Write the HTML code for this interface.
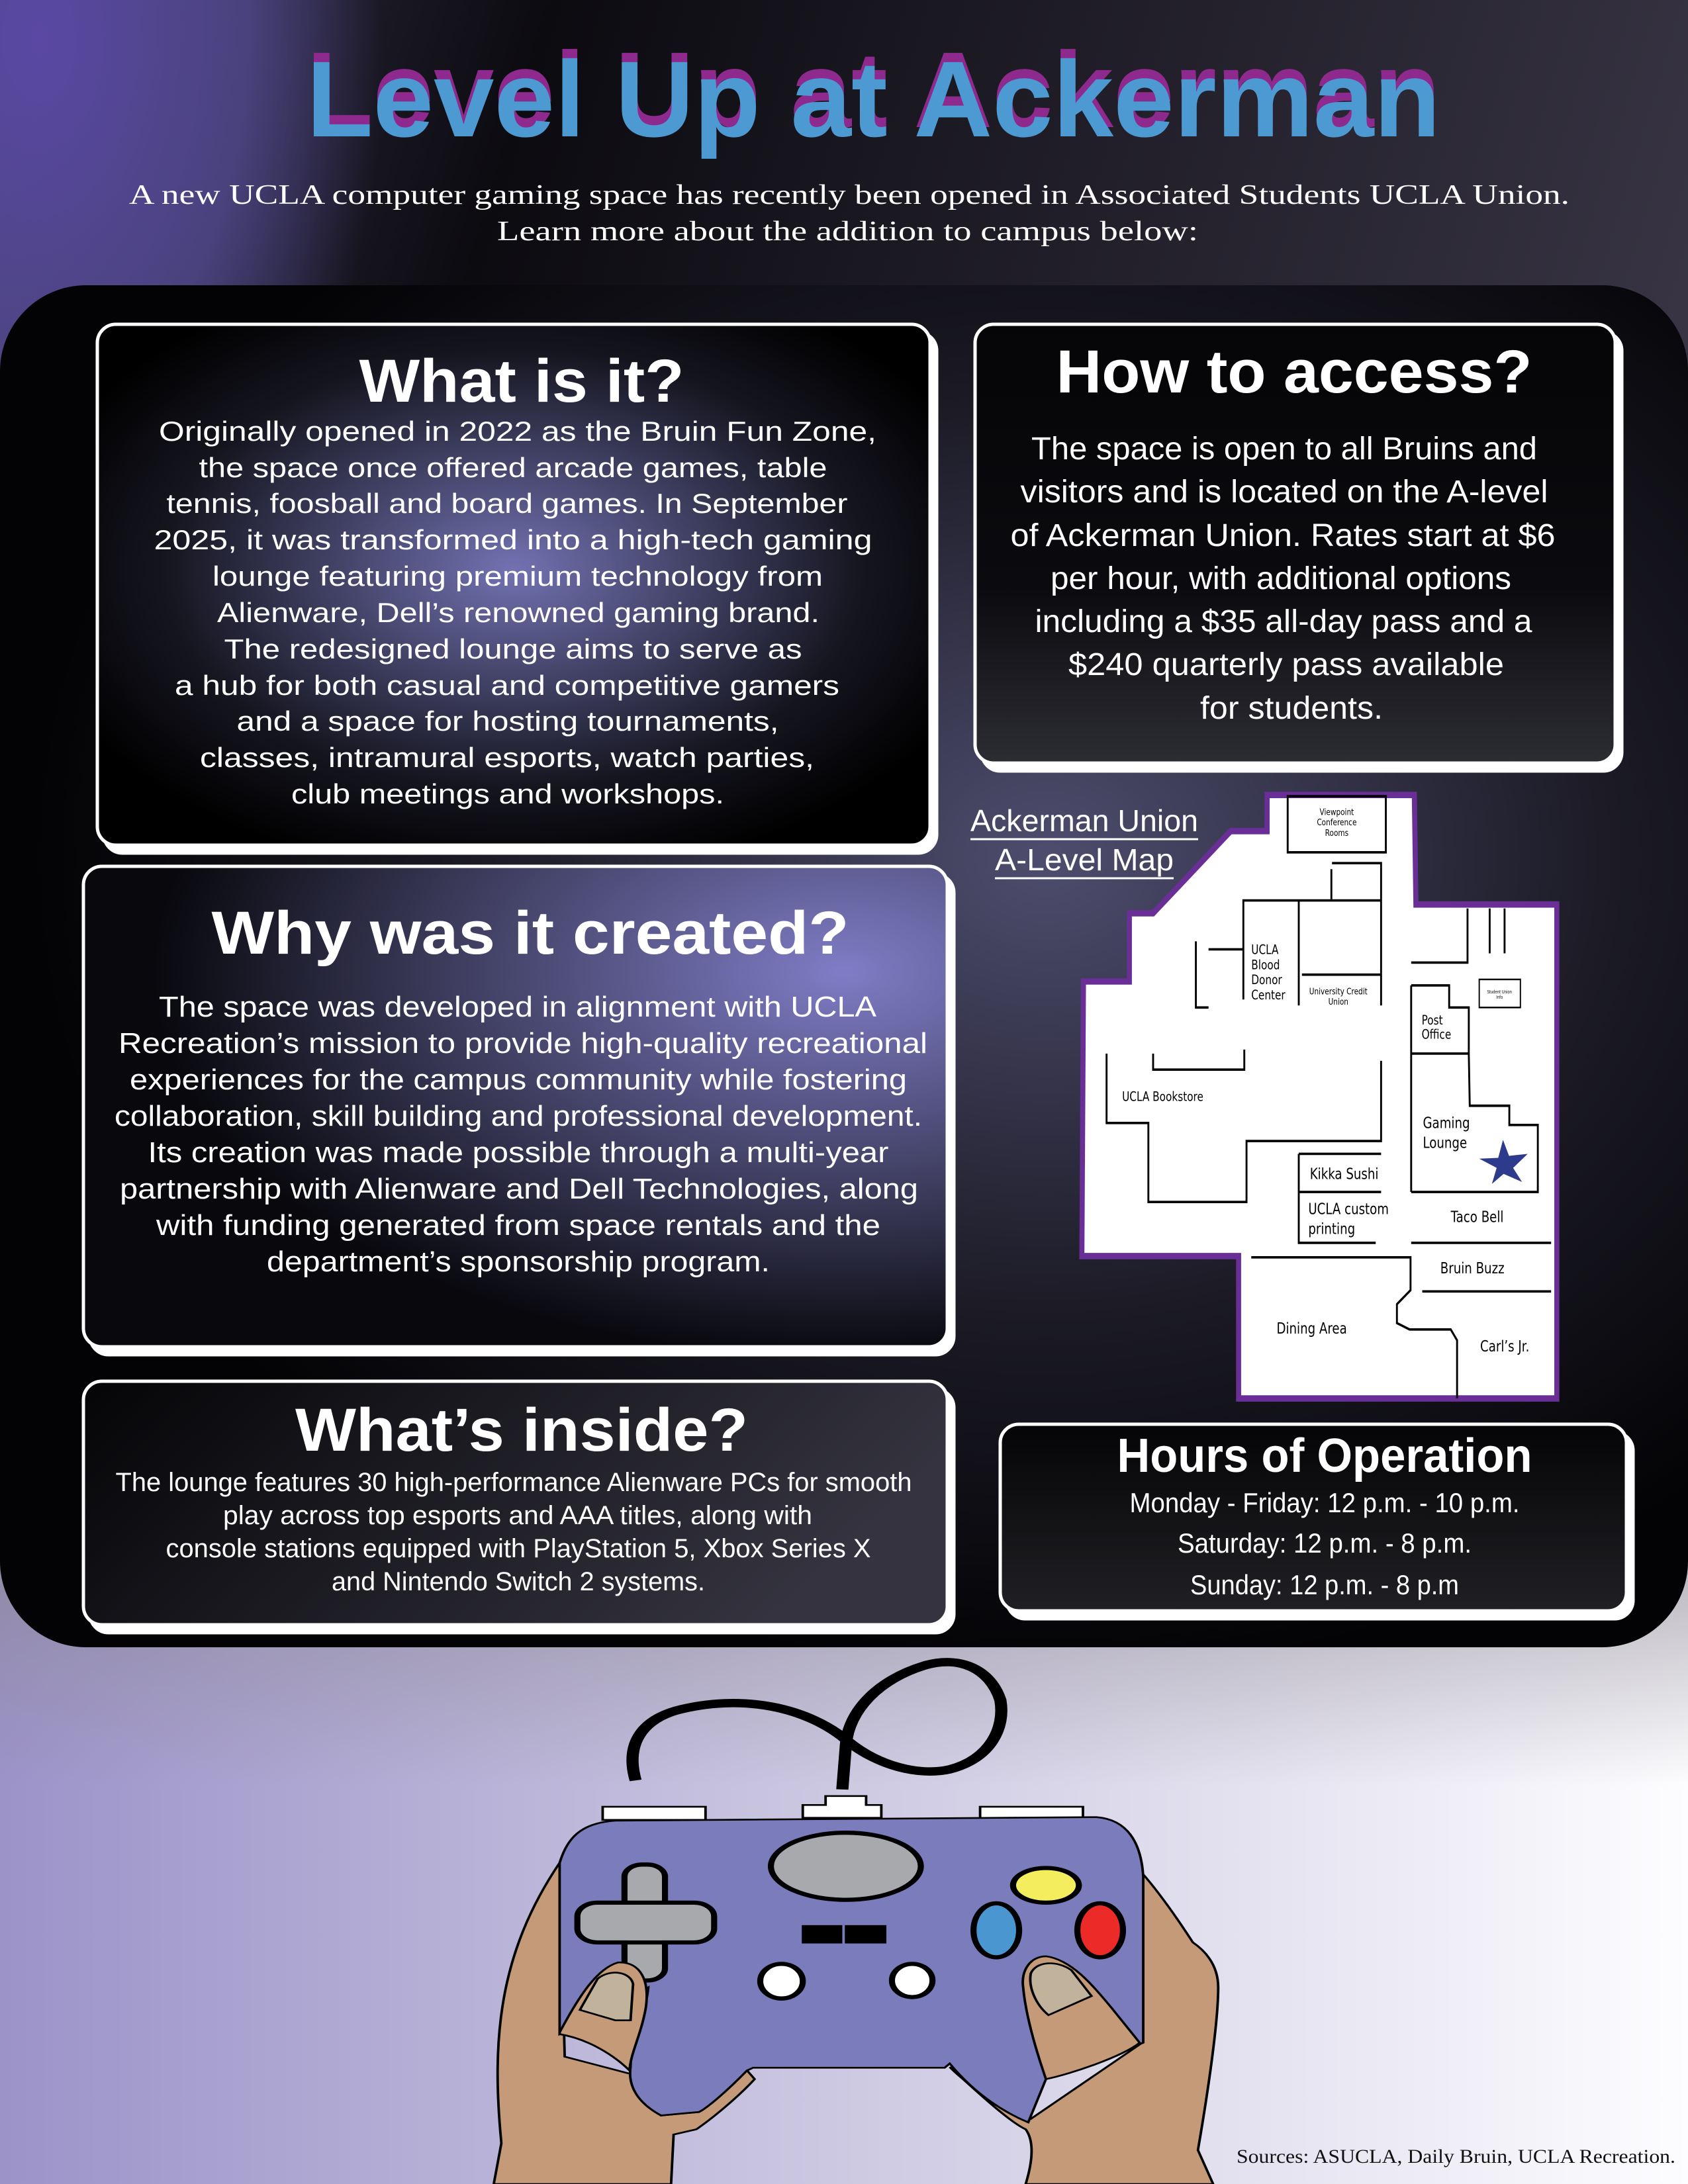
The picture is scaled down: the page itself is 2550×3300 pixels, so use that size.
<!DOCTYPE html>
<html><head><meta charset="utf-8"><style>
html,body{margin:0;padding:0;width:2550px;height:3300px;overflow:hidden;background:#24222c}
svg{display:block}
</style></head><body>
<svg width="2550" height="3300" viewBox="0 0 2550 3300" xmlns="http://www.w3.org/2000/svg" font-family="'Liberation Sans', sans-serif">
<defs>
<linearGradient id="topbg" x1="0" y1="0" x2="1" y2="0.3">
<stop offset="0" stop-color="#3a3650"/><stop offset="0.3" stop-color="#0c0b10"/><stop offset="0.7" stop-color="#26232f"/><stop offset="1" stop-color="#3a3646"/></linearGradient>
<radialGradient id="purp" cx="0" cy="0" r="1" gradientUnits="userSpaceOnUse" gradientTransform="translate(60,60) scale(520,900)">
<stop offset="0" stop-color="#5a48a4"/><stop offset="0.6" stop-color="#534a90" stop-opacity="0.8"/><stop offset="1" stop-color="#534a90" stop-opacity="0"/></radialGradient>
<linearGradient id="botbg" x1="0" y1="0" x2="1" y2="0">
<stop offset="0" stop-color="#9c93c9"/><stop offset="0.5" stop-color="#cdc9e2"/><stop offset="1" stop-color="#fdfdff"/></linearGradient>
<linearGradient id="botfade" x1="0" y1="0" x2="0" y2="1">
<stop offset="0" stop-color="#8a8590" stop-opacity="0.7"/><stop offset="0.4" stop-color="#8a8590" stop-opacity="0"/></linearGradient>
<radialGradient id="panel" cx="0.62" cy="0.42" r="0.6">
<stop offset="0" stop-color="#4e4d6e"/><stop offset="0.55" stop-color="#1c1b26"/><stop offset="1" stop-color="#030305"/></radialGradient>
<radialGradient id="g1" cx="0.5" cy="0.47" r="0.6">
<stop offset="0" stop-color="#7272b2"/><stop offset="0.7" stop-color="#15151f"/><stop offset="1" stop-color="#000"/></radialGradient>
<radialGradient id="g3" cx="0.88" cy="0.22" r="0.8">
<stop offset="0" stop-color="#7f7dc6"/><stop offset="0.6" stop-color="#3a3958"/><stop offset="1" stop-color="#08080d"/></radialGradient>
<linearGradient id="g2" x1="0" y1="0" x2="0" y2="1">
<stop offset="0" stop-color="#050507"/><stop offset="0.6" stop-color="#0b0b0f"/><stop offset="1" stop-color="#2c2c33"/></linearGradient>
<linearGradient id="g4" x1="0" y1="0" x2="1" y2="0.3">
<stop offset="0" stop-color="#050507"/><stop offset="1" stop-color="#34333f"/></linearGradient>
<linearGradient id="g5" x1="0" y1="0" x2="0" y2="1">
<stop offset="0" stop-color="#050507"/><stop offset="1" stop-color="#202024"/></linearGradient>
</defs>

<!-- background -->
<rect x="0" y="0" width="2550" height="2560" fill="url(#topbg)"/>
<rect x="0" y="0" width="2550" height="2560" fill="url(#purp)"/>
<rect x="0" y="2300" width="2550" height="1000" fill="url(#botbg)"/>
<rect x="0" y="2300" width="2550" height="1000" fill="url(#botfade)"/>

<!-- title -->
<text x="463" y="192" font-size="163" font-weight="bold" fill="#8e2a8e" textLength="1713" lengthAdjust="spacingAndGlyphs">Level Up at Ackerman</text>
<text x="463" y="206" font-size="163" font-weight="bold" fill="#4d9ad3" textLength="1713" lengthAdjust="spacingAndGlyphs">Level Up at Ackerman</text>
<text x="195" y="308" font-size="42" fill="#fff" font-family="'Liberation Serif', serif" textLength="2176" lengthAdjust="spacingAndGlyphs">A new UCLA computer gaming space has recently been opened in Associated Students UCLA Union.</text>
<text x="751" y="363" font-size="42" fill="#fff" font-family="'Liberation Serif', serif" textLength="1059" lengthAdjust="spacingAndGlyphs">Learn more about the addition to campus below:</text>

<!-- panel -->
<rect x="0" y="431" width="2550" height="2058" rx="130" fill="url(#panel)"/>

<!-- boxes -->
<g stroke="#fff" stroke-width="5">
<rect x="157" y="502" width="1258" height="787" rx="28" fill="#fff"/>
<rect x="147" y="490" width="1258" height="787" rx="28" fill="url(#g1)"/>
<rect x="1483" y="502" width="967" height="663" rx="28" fill="#fff"/>
<rect x="1473" y="490" width="967" height="663" rx="28" fill="url(#g2)"/>
<rect x="136" y="1321" width="1305" height="726" rx="28" fill="#fff"/>
<rect x="126" y="1309" width="1305" height="726" rx="28" fill="url(#g3)"/>
<rect x="136" y="2099" width="1305" height="368" rx="28" fill="#fff"/>
<rect x="126" y="2087" width="1305" height="368" rx="28" fill="url(#g4)"/>
<rect x="1521" y="2164" width="946" height="282" rx="28" fill="#fff"/>
<rect x="1511" y="2152" width="946" height="282" rx="28" fill="url(#g5)"/>
</g>

<g fill="#fff" text-anchor="middle">
<!-- box1 -->
<text x="788" y="607" font-size="92" font-weight="bold" textLength="491" lengthAdjust="spacingAndGlyphs">What is it?</text>
<g font-size="42" lengthAdjust="spacingAndGlyphs">
<text x="782" y="666" textLength="1084" lengthAdjust="spacingAndGlyphs">Originally opened in 2022 as the Bruin Fun Zone,</text>
<text x="775" y="721" textLength="949" lengthAdjust="spacingAndGlyphs">the space once offered arcade games, table</text>
<text x="766" y="775" textLength="1029" lengthAdjust="spacingAndGlyphs">tennis, foosball and board games. In September</text>
<text x="775" y="830" textLength="1085" lengthAdjust="spacingAndGlyphs">2025, it was transformed into a high-tech gaming</text>
<text x="782" y="885" textLength="922" lengthAdjust="spacingAndGlyphs">lounge featuring premium technology from</text>
<text x="783" y="940" textLength="910" lengthAdjust="spacingAndGlyphs">Alienware, Dell’s renowned gaming brand.</text>
<text x="775" y="995" textLength="873" lengthAdjust="spacingAndGlyphs">The redesigned lounge aims to serve as</text>
<text x="766" y="1050" textLength="1004" lengthAdjust="spacingAndGlyphs">a hub for both casual and competitive gamers</text>
<text x="767" y="1104" textLength="819" lengthAdjust="spacingAndGlyphs">and a space for hosting tournaments,</text>
<text x="766" y="1159" textLength="928" lengthAdjust="spacingAndGlyphs">classes, intramural esports, watch parties,</text>
<text x="767" y="1214" textLength="654" lengthAdjust="spacingAndGlyphs">club meetings and workshops.</text>
</g>
<!-- box2 -->
<text x="1955" y="593" font-size="92" font-weight="bold" textLength="719" lengthAdjust="spacingAndGlyphs">How to access?</text>
<g font-size="48">
<text x="1940" y="694" textLength="764" lengthAdjust="spacingAndGlyphs">The space is open to all Bruins and</text>
<text x="1940" y="759" textLength="797" lengthAdjust="spacingAndGlyphs">visitors and is located on the A-level</text>
<text x="1938" y="825" textLength="823" lengthAdjust="spacingAndGlyphs">of Ackerman Union. Rates start at $6</text>
<text x="1935" y="890" textLength="696" lengthAdjust="spacingAndGlyphs">per hour, with additional options</text>
<text x="1939" y="955" textLength="751" lengthAdjust="spacingAndGlyphs">including a $35 all-day pass and a</text>
<text x="1943" y="1020" textLength="658" lengthAdjust="spacingAndGlyphs">$240 quarterly pass available</text>
<text x="1951" y="1086" textLength="276" lengthAdjust="spacingAndGlyphs">for students.</text>
</g>
<!-- box3 -->
<text x="801" y="1441" font-size="92" font-weight="bold" textLength="963" lengthAdjust="spacingAndGlyphs">Why was it created?</text>
<g font-size="44">
<text x="782" y="1536" textLength="1084" lengthAdjust="spacingAndGlyphs">The space was developed in alignment with UCLA</text>
<text x="790" y="1591" textLength="1222" lengthAdjust="spacingAndGlyphs">Recreation’s mission to provide high-quality recreational</text>
<text x="783" y="1646" textLength="1174" lengthAdjust="spacingAndGlyphs">experiences for the campus community while fostering</text>
<text x="783" y="1701" textLength="1220" lengthAdjust="spacingAndGlyphs">collaboration, skill building and professional development.</text>
<text x="783" y="1756" textLength="1119" lengthAdjust="spacingAndGlyphs">Its creation was made possible through a multi-year</text>
<text x="784" y="1811" textLength="1206" lengthAdjust="spacingAndGlyphs">partnership with Alienware and Dell Technologies, along</text>
<text x="783" y="1866" textLength="1094" lengthAdjust="spacingAndGlyphs">with funding generated from space rentals and the</text>
<text x="783" y="1921" textLength="760" lengthAdjust="spacingAndGlyphs">department’s sponsorship program.</text>
</g>
<!-- box4 -->
<text x="788" y="2192" font-size="92" font-weight="bold" textLength="684" lengthAdjust="spacingAndGlyphs">What’s inside?</text>
<g font-size="40">
<text x="776" y="2253" textLength="1203" lengthAdjust="spacingAndGlyphs">The lounge features 30 high-performance Alienware PCs for smooth</text>
<text x="782" y="2303" textLength="890" lengthAdjust="spacingAndGlyphs">play across top esports and AAA titles, along with</text>
<text x="783" y="2353" textLength="1065" lengthAdjust="spacingAndGlyphs">console stations equipped with PlayStation 5, Xbox Series X</text>
<text x="783" y="2403" textLength="564" lengthAdjust="spacingAndGlyphs">and Nintendo Switch 2 systems.</text>
</g>
<!-- box5 -->
<text x="2001" y="2224" font-size="72" font-weight="bold" textLength="627" lengthAdjust="spacingAndGlyphs">Hours of Operation</text>
<g font-size="42">
<text x="2001" y="2285" textLength="589" lengthAdjust="spacingAndGlyphs">Monday - Friday: 12 p.m. - 10 p.m.</text>
<text x="2001" y="2346" textLength="444" lengthAdjust="spacingAndGlyphs">Saturday: 12 p.m. - 8 p.m.</text>
<text x="2001" y="2409" textLength="406" lengthAdjust="spacingAndGlyphs">Sunday: 12 p.m. - 8 p.m</text>
</g>
<!-- map label -->
<text x="1638" y="1256" font-size="46" textLength="344" lengthAdjust="spacingAndGlyphs">Ackerman Union</text>
<text x="1638" y="1315" font-size="46" textLength="270" lengthAdjust="spacingAndGlyphs">A-Level Map</text>
</g>
<line x1="1466" y1="1268" x2="1810" y2="1268" stroke="#fff" stroke-width="3"/>
<line x1="1503" y1="1327" x2="1773" y2="1327" stroke="#fff" stroke-width="3"/>

<text x="1868" y="3268" font-size="30" fill="#111" font-family="'Liberation Serif', serif" textLength="663" lengthAdjust="spacingAndGlyphs">Sources: ASUCLA, Daily Bruin, UCLA Recreation.</text>

<!-- MAP -->
<svg x="1620" y="1180" width="750" height="950" viewBox="0 0 1568 1568" preserveAspectRatio="none">
<polygon points="615,35 1080,35 1085,308 1530,308 1530,1540 525,1540 525,1185 30,1185 35,500 180,500 180,330 255,330 500,125 615,125" fill="#fff" stroke="#6a2f96" stroke-width="16"/>
<g fill="none" stroke="#000" stroke-width="6">
<rect x="680" y="38" width="310" height="140"/>
<polyline points="820,205 975,205 975,560"/>
<line x1="818" y1="220" x2="818" y2="295"/>
<polyline points="540,545 540,298 975,298"/>
<line x1="715" y1="298" x2="715" y2="560"/>
<line x1="725" y1="483" x2="975" y2="483"/>
<polyline points="390,400 390,565 430,565"/>
<line x1="430" y1="420" x2="540" y2="420"/>
<polyline points="255,680 255,720 543,720 543,670"/>
<polyline points="108,680 108,853 240,853 240,1050 550,1050 550,898 975,898 975,698"/>
<line x1="715" y1="930" x2="975" y2="930"/>
<polyline points="715,930 715,1152 958,1152"/>
<line x1="715" y1="1025" x2="975" y2="1025"/>
<polyline points="1070,453 1248,453 1248,318"/>
<line x1="1318" y1="318" x2="1318" y2="430"/>
<line x1="1365" y1="318" x2="1365" y2="430"/>
<rect x="1285" y="495" width="130" height="70" stroke-width="4"/>
<polyline points="1070,510 1190,510 1190,565 1252,565 1252,680"/>
<line x1="1070" y1="510" x2="1070" y2="1025"/>
<line x1="1070" y1="680" x2="1252" y2="680"/>
<polyline points="1252,680 1255,810 1380,810 1380,858 1470,858 1470,1025 1070,1025"/>
<line x1="1070" y1="1152" x2="1512" y2="1152"/>
<line x1="1105" y1="1273" x2="1512" y2="1273"/>
<polyline points="565,1188 1068,1188 1068,1270 1025,1305 1025,1352 1065,1368 1195,1368 1215,1395 1215,1540"/>
</g>
<polygon points="1360,895 1379,935 1438,930 1392,965 1420,1000 1362,980 1325,1005 1340,965 1285,942 1345,940" fill="#2e3a8c"/>
<g font-family="'DejaVu Sans', sans-serif" fill="#000">
<g font-size="22" text-anchor="middle">
<text x="835" y="85">Viewpoint</text><text x="835" y="111">Conference</text><text x="835" y="137">Rooms</text>
<text x="840" y="532">University Credit</text><text x="840" y="558">Union</text>
</g>
<g font-size="11" text-anchor="middle"><text x="1349" y="530">Student Union</text><text x="1349" y="543">Info</text></g>
<g font-size="32">
<text x="565" y="432">UCLA</text><text x="565" y="470">Blood</text><text x="565" y="507">Donor</text><text x="565" y="545">Center</text>
<text x="1103" y="607">Post</text><text x="1103" y="643">Office</text>
<text x="157" y="798">UCLA Bookstore</text>
</g>
<g font-size="38">
<text x="1107" y="866">Gaming</text><text x="1107" y="915">Lounge</text>
<text x="750" y="993">Kikka Sushi</text>
<text x="745" y="1080">UCLA custom</text><text x="745" y="1130">printing</text>
<text x="1195" y="1100">Taco Bell</text>
<text x="1162" y="1228">Bruin Buzz</text>
<text x="645" y="1378">Dining Area</text>
<text x="1288" y="1423">Carl’s Jr.</text>
</g>
</g>
</svg>

<!-- CONTROLLER -->
<svg x="700" y="2480" width="1200" height="820" viewBox="0 0 1568 1568" preserveAspectRatio="none">
<path d="M340,402 C320,300 350,230 420,200 C550,150 680,190 760,290 C820,360 900,390 960,370 C1040,340 1070,250 1060,170 C1040,80 980,40 910,70 C820,110 760,200 755,300 L748,428" fill="none" stroke="#000" stroke-width="24"/>
<g stroke="#000" stroke-width="5" fill="#fff">
<rect x="275" y="478" width="203" height="38"/>
<rect x="1020" y="478" width="203" height="38"/>
<polygon points="670,510 670,473 715,473 715,447 795,447 795,473 825,473 825,510"/>
</g>
<g stroke="#000" stroke-width="5" fill="#c49a78">
<path d="M60,1568 L75,1450 C55,1150 70,900 190,640 L200,1200 L330,1250 L390,1370 L465,1360 L560,1240 L575,1265 C540,1320 490,1380 460,1410 L415,1425 L410,1568 Z"/>
<path d="M1480,1568 L1450,1470 C1470,1300 1490,1100 1490,1000 C1490,930 1460,890 1440,870 C1400,780 1370,720 1340,670 L1340,1160 L1120,1380 C1060,1340 1000,1290 960,1230 L975,1250 C1020,1310 1080,1390 1110,1410 C1130,1450 1120,1520 1110,1568 Z"/>
</g>
<path d="M190,640 C205,570 230,525 300,518 L1250,508 C1310,515 1338,580 1342,680 L1342,1160 L1150,1265 L1115,1390 C1050,1350 1000,1290 960,1220 L950,1232 L572,1232 L560,1240 C520,1300 480,1350 465,1360 L390,1370 C340,1330 325,1280 330,1230 C330,1160 360,1080 365,1000 L190,1135 Z" fill="#7b7cbb" stroke="#000" stroke-width="5"/>
<g fill="#a7a9ac" stroke="#000" stroke-width="12">
<rect x="318" y="645" width="80" height="335" rx="35"/>
<rect x="225" y="755" width="270" height="115" rx="40"/>
</g>
<rect x="324" y="761" width="68" height="103" fill="#a7a9ac"/>
<ellipse cx="755" cy="650" rx="148" ry="97" fill="#a7a9ac" stroke="#000" stroke-width="12"/>
<rect x="668" y="820" width="80" height="53" fill="#000"/>
<rect x="753" y="820" width="82" height="53" fill="#000"/>
<g stroke="#000" stroke-width="12">
<ellipse cx="628" cy="982" rx="42" ry="50" fill="#fff"/>
<ellipse cx="886" cy="980" rx="40" ry="48" fill="#fff"/>
<ellipse cx="1150" cy="705" rx="65" ry="50" fill="#f4ee5e"/>
<ellipse cx="1052" cy="835" rx="45" ry="78" fill="#4a96d0"/>
<ellipse cx="1257" cy="835" rx="45" ry="78" fill="#ec2a27"/>
</g>
<g stroke="#000" stroke-width="5">
<path d="M190,1130 C230,1020 265,945 305,928 C350,925 368,980 360,1060 C350,1140 330,1190 328,1240 C300,1200 250,1150 190,1135 Z" fill="#c49a78"/>
<path d="M230,1065 L265,975 C290,945 330,955 335,990 L330,1095 L300,1095 Z" fill="#c1b39b"/>
<path d="M1105,1000 C1100,950 1120,910 1150,910 C1200,920 1240,990 1280,1060 L1335,1160 C1300,1200 1200,1250 1150,1265 C1130,1180 1110,1080 1105,1000 Z" fill="#c49a78"/>
<path d="M1120,960 C1130,925 1170,920 1200,950 L1240,1025 L1155,1080 C1130,1050 1115,1000 1120,960 Z" fill="#c1b39b"/>
</g>
</svg>
</svg>
</body></html>
